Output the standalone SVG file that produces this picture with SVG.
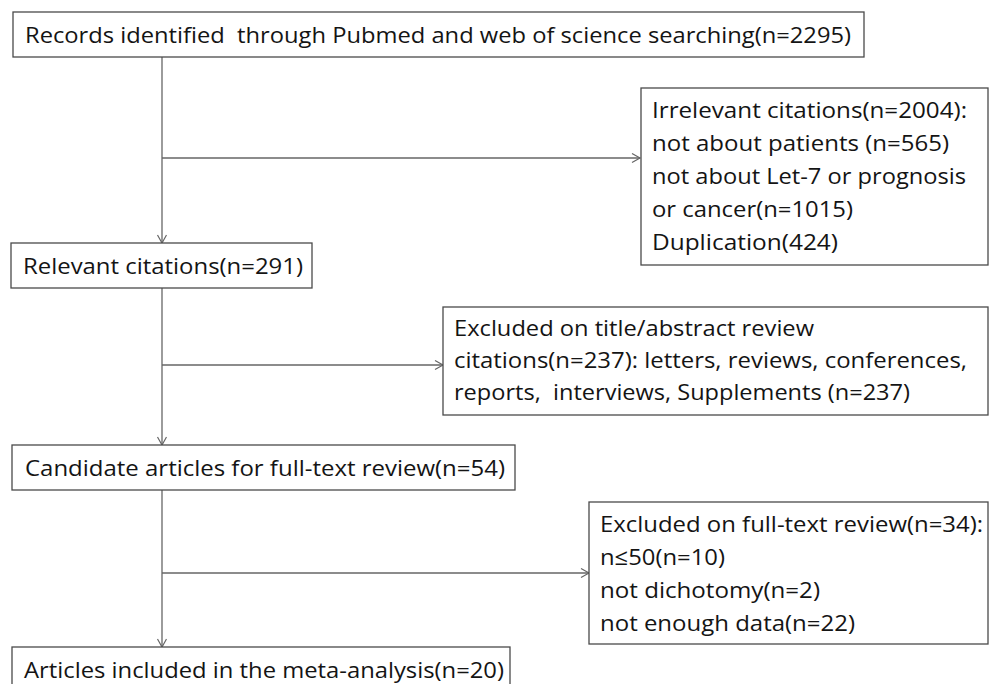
<svg xmlns="http://www.w3.org/2000/svg" width="990" height="684" viewBox="0 0 990 684">
<style>
.box{fill:#ffffff;stroke:#4a4a4a;stroke-width:1.3}
.t{font-family:"Open Sans","Liberation Sans",sans-serif;font-size:22.5px;fill:#141414;white-space:pre}
.c{fill:none;stroke:#666666;stroke-width:1.3}
</style>
<defs>
<marker id="ah" markerUnits="userSpaceOnUse" markerWidth="12" markerHeight="12" refX="9" refY="5" orient="auto">
<path d="M1,0.5 L9,5 L1,9.5" fill="none" stroke="#666666" stroke-width="1.2"/>
</marker>
</defs>
<rect width="990" height="684" fill="#ffffff"/>
<g id="connectors">
<path class="c" d="M162,57 V243" marker-end="url(#ah)"/>
<path class="c" d="M162,158 H640" marker-end="url(#ah)"/>
<path class="c" d="M162,288 V445" marker-end="url(#ah)"/>
<path class="c" d="M162,365 H443" marker-end="url(#ah)"/>
<path class="c" d="M162,490 V647" marker-end="url(#ah)"/>
<path class="c" d="M162,573 H589" marker-end="url(#ah)"/>
</g>
<g id="records">
<rect class="box" x="13" y="12" width="851" height="45"/>
<text class="t" x="25" y="43" textLength="826" lengthAdjust="spacingAndGlyphs" xml:space="preserve">Records identified  through Pubmed and web of science searching(n=2295)</text>
</g>
<g id="irrelevant">
<rect class="box" x="641" y="88" width="347" height="177"/>
<text class="t" x="652" y="118" textLength="315" lengthAdjust="spacingAndGlyphs">Irrelevant citations(n=2004):</text>
<text class="t" x="652" y="151" textLength="297" lengthAdjust="spacingAndGlyphs">not about patients (n=565)</text>
<text class="t" x="652" y="184" textLength="314" lengthAdjust="spacingAndGlyphs">not about Let-7 or prognosis</text>
<text class="t" x="652" y="217" textLength="201" lengthAdjust="spacingAndGlyphs">or cancer(n=1015)</text>
<text class="t" x="652" y="250" textLength="186" lengthAdjust="spacingAndGlyphs">Duplication(424)</text>
</g>
<g id="relevant">
<rect class="box" x="11" y="243" width="301" height="45"/>
<text class="t" x="23" y="274" textLength="280" lengthAdjust="spacingAndGlyphs">Relevant citations(n=291)</text>
</g>
<g id="excluded-title">
<rect class="box" x="443" y="307" width="545" height="108"/>
<text class="t" x="454" y="336" textLength="360" lengthAdjust="spacingAndGlyphs">Excluded on title/abstract review</text>
<text class="t" x="454" y="368" textLength="513" lengthAdjust="spacingAndGlyphs">citations(n=237): letters, reviews, conferences,</text>
<text class="t" x="454" y="400" textLength="456" lengthAdjust="spacingAndGlyphs" xml:space="preserve">reports,  interviews, Supplements (n=237)</text>
</g>
<g id="candidate">
<rect class="box" x="12" y="445" width="503" height="45"/>
<text class="t" x="25" y="476" textLength="480" lengthAdjust="spacingAndGlyphs">Candidate articles for full-text review(n=54)</text>
</g>
<g id="excluded-fulltext">
<rect class="box" x="589" y="502" width="399" height="142"/>
<text class="t" x="600" y="532" textLength="383" lengthAdjust="spacingAndGlyphs">Excluded on full-text review(n=34):</text>
<text class="t" x="600" y="565" textLength="125" lengthAdjust="spacingAndGlyphs">n≤50(n=10)</text>
<text class="t" x="600" y="598" textLength="220" lengthAdjust="spacingAndGlyphs">not dichotomy(n=2)</text>
<text class="t" x="600" y="631" textLength="255" lengthAdjust="spacingAndGlyphs">not enough data(n=22)</text>
</g>
<g id="included">
<rect class="box" x="12" y="647" width="498" height="45"/>
<text class="t" x="24" y="678" textLength="480" lengthAdjust="spacingAndGlyphs">Articles included in the meta-analysis(n=20)</text>
</g>
</svg>
